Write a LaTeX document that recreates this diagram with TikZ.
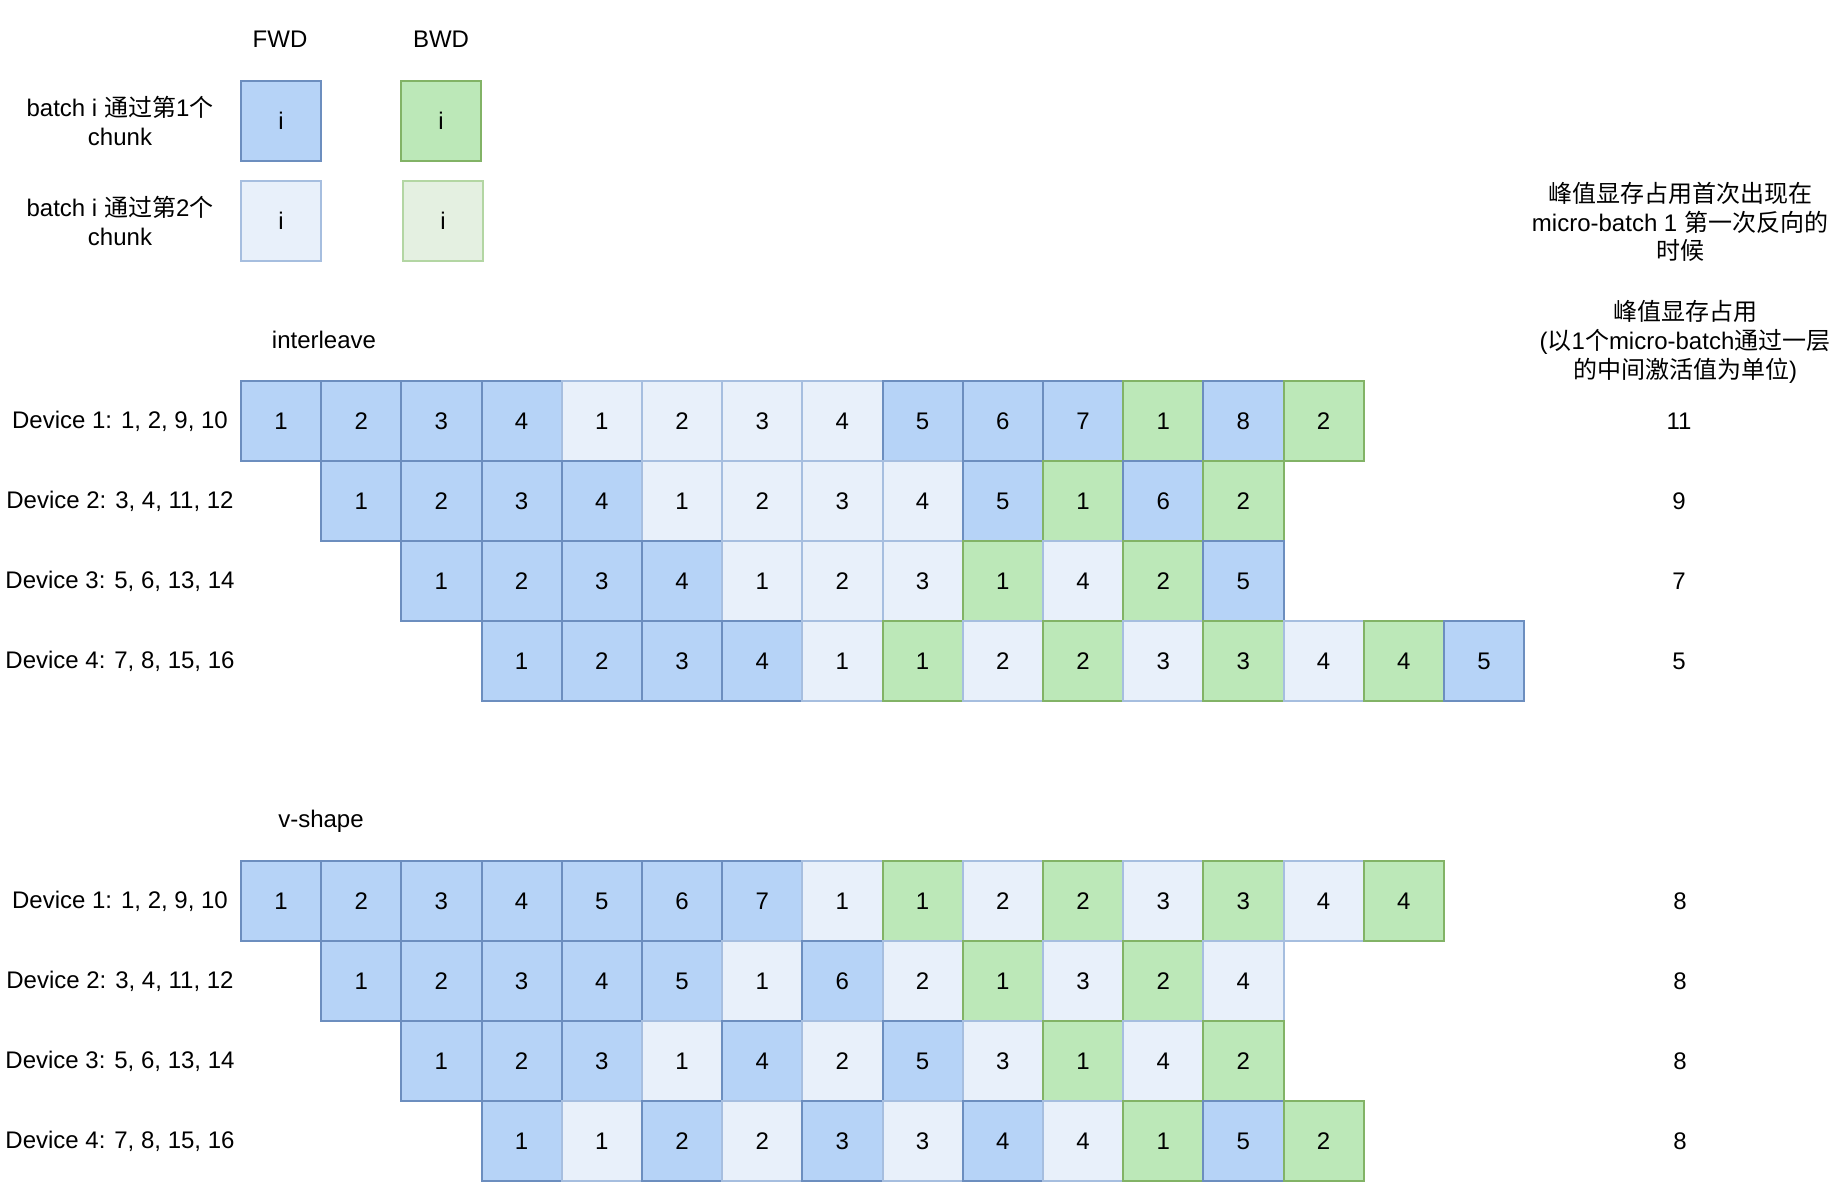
\documentclass[tikz,border=0pt]{standalone}
\usepackage{fontspec}
\setmainfont{Liberation Sans}
\newfontfamily\cjk{Noto Sans CJK SC}
\definecolor{bfill}{HTML}{B6D3F7}
\definecolor{bdraw}{HTML}{6C8EBF}
\definecolor{lbfill}{HTML}{E8F0FA}
\definecolor{lbdraw}{HTML}{A6BEDF}
\definecolor{gfill}{HTML}{BCE8B8}
\definecolor{gdraw}{HTML}{82B366}
\definecolor{lgfill}{HTML}{E4F0E1}
\definecolor{lgdraw}{HTML}{B3D6A3}
\tikzset{
  txt/.style={font=\fontsize{18}{21.6}\selectfont, inner sep=0pt, align=center},
  cellbase/.style={txt, line width=1.5pt, minimum size=60.15pt},
  cellF/.style={cellbase, draw=bdraw, fill=bfill},
  cellL/.style={cellbase, draw=lbdraw, fill=lbfill},
  cellG/.style={cellbase, draw=gdraw, fill=gfill},
  cellH/.style={cellbase, draw=lgdraw, fill=lgfill},
}
\newcommand\schedrow[5]{%
  \foreach \kk/\nn [count=\ii from #3] in {#5} {%
    \node[cell\kk] (#1#2c\ii) at ({281+80.2*\ii},#4) {\nn};}}
\begin{document}
\begin{tikzpicture}[x=0.75pt,y=-0.75pt]
\useasboundingbox (0,0) rectangle (1842,1182);
% legend
\node[txt] (fwd) at (280,39) {FWD};
\node[txt] (bwd) at (441,39) {BWD};
\node[txt] (lg1) at (120,121) {batch i {\cjk 通过第}1{\cjk 个}\\chunk};
\node[txt] (lg2) at (120,221) {batch i {\cjk 通过第}2{\cjk 个}\\chunk};
\node[cellF] (lgF1) at (281,121) {i};
\node[cellG] (lgB1) at (441,121) {i};
\node[cellL] (lgF2) at (281,221) {i};
\node[cellH] (lgB2) at (443,221) {i};
% right notes
\node[txt] (note1) at (1680,222) {{\cjk 峰值显存占用首次出现在}\\micro-batch 1 {\cjk 第一次反向的}\\{\cjk 时候}};
\node[txt] (note2) at (1685,342) {{\cjk 峰值显存占用}\\({\cjk 以}1{\cjk 个}micro-batch{\cjk 通过一层}\\{\cjk 的中间激活值为单位})};
% interleave
\node[txt] (tI) at (324,340) {interleave};
\foreach \r/\lab/\pk in {0/{Device 1: 1, 2, 9, 10}/11,1/{Device 2: 3, 4, 11, 12}/9,2/{Device 3: 5, 6, 13, 14}/7,3/{Device 4: 7, 8, 15, 16}/5}{
  \node[txt] (Idev\r) at (120,{421+80*\r}) {\lab};
  \node[txt] (Ipk\r) at (1679,{421+80*\r}) {\pk};
}
\schedrow{I}{0}{0}{421}{F/1,F/2,F/3,F/4,L/1,L/2,L/3,L/4,F/5,F/6,F/7,G/1,F/8,G/2}
\schedrow{I}{1}{1}{501}{F/1,F/2,F/3,F/4,L/1,L/2,L/3,L/4,F/5,G/1,F/6,G/2}
\schedrow{I}{2}{2}{581}{F/1,F/2,F/3,F/4,L/1,L/2,L/3,G/1,L/4,G/2,F/5}
\schedrow{I}{3}{3}{661}{F/1,F/2,F/3,F/4,L/1,G/1,L/2,G/2,L/3,G/3,L/4,G/4,F/5}
% v-shape
\node[txt] (tV) at (321,821) {v-shape};
\foreach \r/\lab/\pk in {0/{Device 1: 1, 2, 9, 10}/8,1/{Device 2: 3, 4, 11, 12}/8,2/{Device 3: 5, 6, 13, 14}/8,3/{Device 4: 7, 8, 15, 16}/8}{
  \node[txt] (Vdev\r) at (120,{901+80*\r}) {\lab};
  \node[txt] (Vpk\r) at (1680,{901+80*\r}) {\pk};
}
\schedrow{V}{0}{0}{901}{F/1,F/2,F/3,F/4,F/5,F/6,F/7,L/1,G/1,L/2,G/2,L/3,G/3,L/4,G/4}
\schedrow{V}{1}{1}{981}{F/1,F/2,F/3,F/4,F/5,L/1,F/6,L/2,G/1,L/3,G/2,L/4}
\schedrow{V}{2}{2}{1061}{F/1,F/2,F/3,L/1,F/4,L/2,F/5,L/3,G/1,L/4,G/2}
\schedrow{V}{3}{3}{1141}{F/1,L/1,F/2,L/2,F/3,L/3,F/4,L/4,G/1,F/5,G/2}
\end{tikzpicture}
\end{document}
